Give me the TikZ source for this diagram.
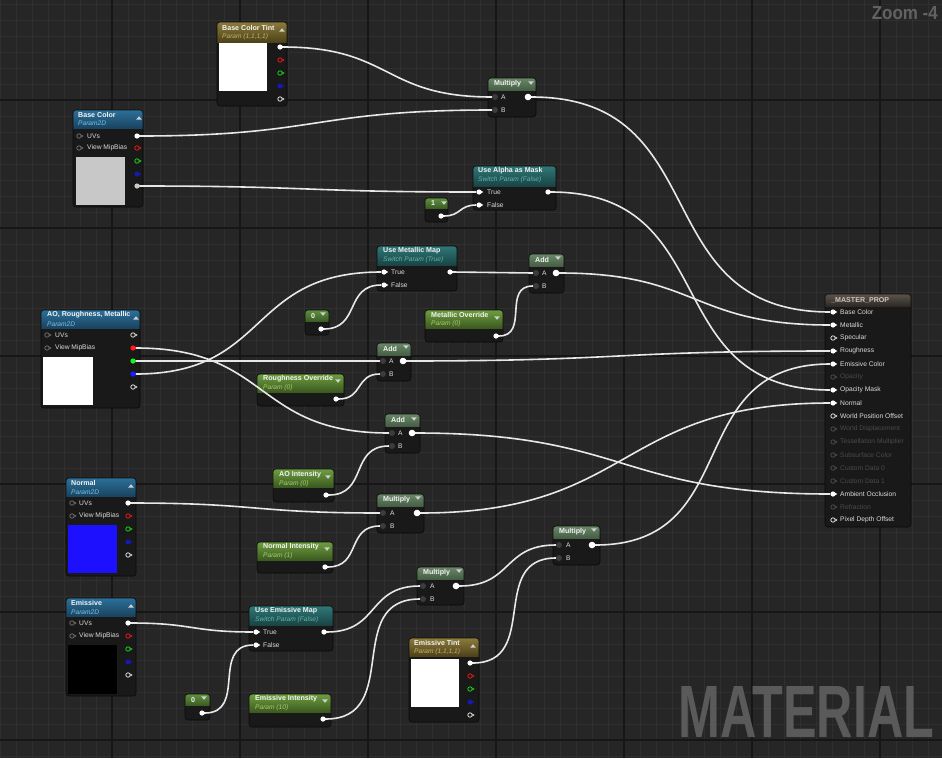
\documentclass[tikz,border=0pt]{standalone}
\usepackage{fontspec}
\setmainfont{Liberation Sans}
\usepackage{graphicx}
\usetikzlibrary{calc}
\definecolor{bgc}{HTML}{262626}
\definecolor{gridm}{HTML}{2F2F2F}
\definecolor{gridM}{HTML}{161616}
\definecolor{nbg}{HTML}{191919}
\definecolor{nbd}{HTML}{0A0A0A}
\definecolor{ttlc}{HTML}{F4F4F4}
\definecolor{lblc}{HTML}{DCDCDC}
\definecolor{dimc}{HTML}{4A4A4A}
\definecolor{wirec}{HTML}{E8E8E8}
\definecolor{pind}{HTML}{3C3C3C}
\definecolor{pinin}{HTML}{6A6A6A}
\definecolor{pinW}{HTML}{D8D8D8}
\definecolor{pinR}{HTML}{E01818}
\definecolor{pinG}{HTML}{18D018}
\definecolor{pinB}{HTML}{1818B0}
\definecolor{pinRf}{HTML}{FF1C1C}
\definecolor{pinGf}{HTML}{1CF01C}
\definecolor{pinBf}{HTML}{1C1CFF}
\definecolor{pinL}{HTML}{C8C8C8}
\definecolor{text}{HTML}{2C709A}
\definecolor{texb}{HTML}{1A4460}
\definecolor{texsub}{HTML}{78C4E8}
\definecolor{vect}{HTML}{8C7B3C}
\definecolor{vecb}{HTML}{4E4219}
\definecolor{vecsub}{HTML}{C4B26C}
\definecolor{scat}{HTML}{6E9E40}
\definecolor{scab}{HTML}{3B5A20}
\definecolor{scasub}{HTML}{A8CC70}
\definecolor{cont}{HTML}{609040}
\definecolor{conb}{HTML}{3C5E24}
\definecolor{matt}{HTML}{6A8868}
\definecolor{matb}{HTML}{465E45}
\definecolor{swit}{HTML}{2F7878}
\definecolor{swib}{HTML}{1A4444}
\definecolor{swisub}{HTML}{62B4AA}
\definecolor{mast}{HTML}{5C534B}
\definecolor{masb}{HTML}{2E2A26}
\definecolor{masttl}{HTML}{CCC6BE}
\definecolor{hdrtri}{HTML}{D0D0D0}
\definecolor{wmc}{HTML}{5A5A5A}
\definecolor{zoomc}{HTML}{626262}
\definecolor{swgrey}{HTML}{C8C8C8}
\definecolor{swblue}{HTML}{1C10FF}
\tikzset{
 ttl/.style={anchor=west, inner sep=0pt, text=ttlc, font=\fontsize{7.1}{8}\selectfont\bfseries},
 sub/.style={anchor=west, inner sep=0pt, font=\fontsize{6.6}{7.5}\selectfont\itshape},
 lbl/.style={anchor=west, inner sep=0pt, text=lblc, font=\fontsize{6.7}{7.5}\selectfont},
 sw/.style={anchor=north west, inner sep=0pt, draw=none},
 wire/.style={draw=wirec, line width=1.6pt},
 wt/.style={out=0, in=180, looseness=1.3}
}
\newcommand\uenode[8]{%
 \node[inner sep=0pt, anchor=north west, minimum width=#4pt, minimum height=#5pt] (#1) at (#2,#3) {};
 \fill[nbg, rounded corners=3pt] (#2,#3) rectangle ++(#4,#5);
 \begin{scope}
  \clip[rounded corners=3pt] (#2,#3) rectangle ++(#4,#5);
  \shade[top color=#7, bottom color=#8] (#2,#3) rectangle ++(#4,#6);
 \end{scope}
 \draw[nbd, line width=0.6pt, rounded corners=3pt] (#2,#3) rectangle ++(#4,#5);
}
\newcommand\pinF[4]{%
 \node[circle,inner sep=0pt,minimum size=5.2pt,fill=#4] (#1) at (#2,#3) {};
 \fill[#4] ([xshift=1.6pt,yshift=1.6pt]#1.center) -- ([xshift=4.3pt]#1.center) -- ([xshift=1.6pt,yshift=-1.6pt]#1.center) -- cycle;}
\newcommand\pinH[4]{%
 \node[circle,inner sep=0pt,minimum size=4.4pt,draw=#4,line width=0.8pt,fill=nbg] (#1) at (#2,#3) {};
 \fill[#4] ([xshift=2.4pt,yshift=1.4pt]#1.center) -- ([xshift=4.6pt]#1.center) -- ([xshift=2.4pt,yshift=-1.4pt]#1.center) -- cycle;}
\newcommand\pinD[3]{\node[circle,inner sep=0pt,minimum size=6pt,fill=pind] (#1) at (#2,#3) {};}
\newcommand\pinO[3]{%
 \node[circle,inner sep=0pt,minimum size=6.6pt,fill=white] (#1) at (#2,#3) {};
 \fill[white] ([xshift=2pt,yshift=1.8pt]#1.center) -- ([xshift=5pt]#1.center) -- ([xshift=2pt,yshift=-1.8pt]#1.center) -- cycle;}
\newcommand\hdrdn[2]{\fill[hdrtri] (#1-2.8,#2-1.6) -- (#1+2.8,#2-1.6) -- (#1,#2+1.8) -- cycle;}
\newcommand\hdrup[2]{\fill[hdrtri] (#1-2.8,#2+1.6) -- (#1+2.8,#2+1.6) -- (#1,#2-1.8) -- cycle;}
\begin{document}
\begin{tikzpicture}[x=1pt,y=-1pt]
\useasboundingbox (0,0) rectangle (942,758);
\fill[bgc] (0,0) rectangle (942,758);
\foreach \gx in {0,16,...,944} \draw[gridm, line width=0.6pt] (\gx,0) -- (\gx,758);
\foreach \gy in {4,20,...,756} \draw[gridm, line width=0.6pt] (0,\gy) -- (942,\gy);
\foreach \gx in {112,240,...,880} \draw[gridM, line width=1.1pt] (\gx,0) -- (\gx,758);
\foreach \gy in {100,228,...,740} \draw[gridM, line width=1.1pt] (0,\gy) -- (942,\gy);

\node[anchor=north east, inner sep=0pt, text=zoomc] (zoomlbl) at (938,6) {\resizebox{66pt}{13pt}{\bfseries Zoom -4}};
\node[anchor=north west, inner sep=0pt, text=wmc] (wmk) at (678,686) {\resizebox{256pt}{51pt}{\bfseries MATERIAL}};

% Base Color Tint
\uenode{bct}{217}{22}{70}{84}{20}{vect}{vecb}
\node[ttl] (bct-t) at (222,28) {Base Color Tint};
\node[sub,text=vecsub] (bct-s) at (222,37) {Param (1,1,1,1)};
\hdrup{282}{30}
\node[sw, fill=white, minimum width=48pt, minimum height=48pt] (bct-sw) at (219,43) {};
\pinF{bct-o1}{280}{47}{white}
\pinH{bct-o2}{280}{60}{pinR}
\pinH{bct-o3}{280}{73}{pinG}
\pinF{bct-o4}{280}{86}{pinB}
\pinH{bct-o5}{280}{99}{pinW}

% Base Color
\uenode{bc}{73}{110}{70}{97}{18}{text}{texb}
\node[ttl] (bc-t) at (78,115) {Base Color};
\node[sub,text=texsub] (bc-s) at (78,123) {Param2D};
\hdrup{139}{118}
\pinH{bc-i1}{79}{136}{pinin} \node[lbl] (bc-l1) at (87,136) {UVs};
\pinH{bc-i2}{79}{148}{pinin} \node[lbl] (bc-l2) at (87,148) {View MipBias};
\pinF{bc-o1}{137}{136}{white}
\pinH{bc-o2}{137}{148}{pinR}
\pinH{bc-o3}{137}{161}{pinG}
\pinF{bc-o4}{137}{174}{pinB}
\pinF{bc-o5}{137}{186}{pinL}
\node[sw, fill=swgrey, minimum width=49pt, minimum height=48pt] (bc-sw) at (76,157) {};

% Multiply (top)
\uenode{mt}{488}{78}{48}{39}{12}{matt}{matb}
\node[ttl] (mt-t) at (494,84) {Multiply};
\hdrdn{531}{83}
\pinD{mt-a}{495}{97} \node[lbl] (mt-la) at (501,97) {A};
\pinD{mt-b}{495}{110} \node[lbl] (mt-lb) at (501,110) {B};
\pinO{mt-o}{528}{97}

% Use Alpha as Mask
\uenode{ua}{473}{166}{83}{44}{20}{swit}{swib}
\node[ttl] (ua-t0) at (478,171) {Use Alpha as Mask};
\node[sub,text=swisub] (ua-s) at (478,180) {Switch Param (False)};
\pinF{ua-t}{479}{192}{white} \node[lbl] (ua-lt) at (487,192) {True};
\pinF{ua-f}{479}{205}{white} \node[lbl] (ua-lf) at (487,205) {False};
\pinF{ua-o}{548}{192}{white}

% Constant 1
\uenode{c1}{425}{198}{23}{24}{10}{cont}{conb}
\node[ttl] (c1-t) at (431,203) {1};
\hdrdn{444}{203}
\pinF{c1-o}{441}{216}{white}

% Use Metallic Map
\uenode{um}{377}{246}{80}{45}{19}{swit}{swib}
\node[ttl] (um-t0) at (383,251) {Use Metallic Map};
\node[sub,text=swisub] (um-s) at (383,260) {Switch Param (True)};
\pinF{um-t}{384}{272}{white} \node[lbl] (um-lt) at (391,272) {True};
\pinF{um-f}{384}{285}{white} \node[lbl] (um-lf) at (391,285) {False};
\pinF{um-o}{450}{272}{white}

% Add (metallic)
\uenode{ad1}{529}{254}{35}{39}{12}{matt}{matb}
\node[ttl] (ad1-t) at (535,260) {Add};
\hdrdn{558}{258}
\pinD{ad1-a}{536}{273} \node[lbl] (ad1-la) at (542,273) {A};
\pinD{ad1-b}{536}{286} \node[lbl] (ad1-lb) at (542,286) {B};
\pinO{ad1-o}{556}{273}

% Constant 0 (metallic)
\uenode{c0a}{305}{310}{24}{25}{11}{cont}{conb}
\node[ttl] (c0a-t) at (311,316) {0};
\hdrdn{323}{314}
\pinF{c0a-o}{321}{329}{white}

% Metallic Override
\uenode{mo}{425}{310}{78}{32}{18}{scat}{scab}
\node[ttl] (mo-t) at (431,315) {Metallic Override};
\node[sub,text=scasub] (mo-s) at (431,324) {Param (0)};
\hdrdn{497}{318}
\pinF{mo-o}{496}{336}{white}

% AO, Roughness, Metallic
\uenode{arm}{41}{310}{99}{98}{18}{text}{texb}
\node[ttl] (arm-t) at (47,315) {AO, Roughness, Metallic};
\node[sub,text=texsub] (arm-s) at (47,324) {Param2D};
\hdrup{136}{318}
\pinH{arm-i1}{47}{335}{pinin} \node[lbl] (arm-l1) at (55,335) {UVs};
\pinH{arm-i2}{47}{348}{pinin} \node[lbl] (arm-l2) at (55,348) {View MipBias};
\pinH{arm-o1}{133}{335}{pinW}
\pinF{arm-o2}{133}{348}{pinRf}
\pinF{arm-o3}{133}{361}{pinGf}
\pinF{arm-o4}{133}{374}{pinBf}
\pinH{arm-o5}{133}{387}{pinW}
\node[sw, fill=white, minimum width=50pt, minimum height=48pt] (arm-sw) at (43,357) {};

% Add (roughness)
\uenode{ad2}{377}{343}{34}{38}{12}{matt}{matb}
\node[ttl] (ad2-t) at (383,349) {Add};
\hdrdn{406}{347}
\pinD{ad2-a}{383}{361} \node[lbl] (ad2-la) at (389,361) {A};
\pinD{ad2-b}{383}{374} \node[lbl] (ad2-lb) at (389,374) {B};
\pinO{ad2-o}{403}{361}

% Roughness Override
\uenode{ro}{257}{374}{87}{32}{18}{scat}{scab}
\node[ttl] (ro-t) at (263,379) {Roughness Override};
\node[sub,text=scasub] (ro-s) at (263,388) {Param (0)};
\hdrdn{338}{381}
\pinF{ro-o}{336}{399}{white}

% Add (AO)
\uenode{ad3}{385}{414}{35}{39}{12}{matt}{matb}
\node[ttl] (ad3-t) at (391,420) {Add};
\hdrdn{414}{419}
\pinD{ad3-a}{392}{433} \node[lbl] (ad3-la) at (398,433) {A};
\pinD{ad3-b}{392}{446} \node[lbl] (ad3-lb) at (398,446) {B};
\pinO{ad3-o}{412}{433}

% Master
\uenode{mp}{825}{294}{86}{233}{12}{mast}{masb}
\node[ttl,text=masttl] (mp-t) at (831,300) {\_MASTER\_PROP};
\foreach \i/\t in {1/Base Color,2/Metallic,4/Roughness,5/Emissive Color,7/Opacity Mask,8/Normal,15/Ambient Occlusion}{
 \pgfmathsetmacro\yy{299+13*\i}
 \pinF{mp-\i}{833}{\yy}{white}
 \node[lbl] (mp-l\i) at (840,\yy) {\t};
}
\foreach \i/\t in {3/Specular,9/World Position Offset,17/Pixel Depth Offset}{
 \pgfmathsetmacro\yy{299+13*\i}
 \pinH{mp-\i}{833}{\yy}{pinW}
 \node[lbl] (mp-l\i) at (840,\yy) {\t};
}
\foreach \i/\t in {6/Opacity,10/World Displacement,11/Tessellation Multiplier,12/Subsurface Color,13/Custom Data 0,14/Custom Data 1,16/Refraction}{
 \pgfmathsetmacro\yy{299+13*\i}
 \pinH{mp-\i}{833}{\yy}{dimc}
 \node[lbl,text=dimc] (mp-l\i) at (840,\yy) {\t};
}

% Normal
\uenode{nm}{66}{478}{70}{98}{18}{text}{texb}
\node[ttl] (nm-t) at (71,483) {Normal};
\node[sub,text=texsub] (nm-s) at (71,492) {Param2D};
\hdrup{131}{486}
\pinH{nm-i1}{72}{503}{pinin} \node[lbl] (nm-l1) at (79,503) {UVs};
\pinH{nm-i2}{72}{516}{pinin} \node[lbl] (nm-l2) at (79,516) {View MipBias};
\pinF{nm-o1}{128}{503}{white}
\pinH{nm-o2}{128}{516}{pinR}
\pinH{nm-o3}{128}{529}{pinG}
\pinF{nm-o4}{128}{542}{pinB}
\pinH{nm-o5}{128}{555}{pinW}
\node[sw, fill=swblue, minimum width=49pt, minimum height=48pt] (nm-sw) at (68,525) {};

% AO Intensity
\uenode{aoi}{273}{469}{61}{33}{18}{scat}{scab}
\node[ttl] (aoi-t) at (279,475) {AO Intensity};
\node[sub,text=scasub] (aoi-s) at (279,484) {Param (0)};
\hdrdn{328}{477}
\pinF{aoi-o}{326}{495}{white}

% Multiply (normal)
\uenode{mn}{377}{494}{47}{39}{12}{matt}{matb}
\node[ttl] (mn-t) at (383,500) {Multiply};
\hdrdn{418}{498}
\pinD{mn-a}{383}{513} \node[lbl] (mn-la) at (390,513) {A};
\pinD{mn-b}{383}{526} \node[lbl] (mn-lb) at (390,526) {B};
\pinO{mn-o}{417}{513}

% Normal Intensity
\uenode{ni}{257}{542}{76}{31}{18}{scat}{scab}
\node[ttl] (ni-t) at (263,547) {Normal Intensity};
\node[sub,text=scasub] (ni-s) at (263,556) {Param (1)};
\hdrdn{327}{549}
\pinF{ni-o}{325}{567}{white}

% Emissive
\uenode{em}{66}{598}{70}{98}{18}{text}{texb}
\node[ttl] (em-t) at (71,603) {Emissive};
\node[sub,text=texsub] (em-s) at (71,612) {Param2D};
\hdrup{131}{606}
\pinH{em-i1}{72}{623}{pinin} \node[lbl] (em-l1) at (79,623) {UVs};
\pinH{em-i2}{72}{636}{pinin} \node[lbl] (em-l2) at (79,636) {View MipBias};
\pinF{em-o1}{128}{623}{white}
\pinH{em-o2}{128}{636}{pinR}
\pinH{em-o3}{128}{649}{pinG}
\pinF{em-o4}{128}{662}{pinB}
\pinH{em-o5}{128}{675}{pinW}
\node[sw, fill=black, minimum width=49pt, minimum height=49pt] (em-sw) at (68,645) {};

% Use Emissive Map
\uenode{uem}{249}{606}{84}{45}{19}{swit}{swib}
\node[ttl] (uem-t0) at (255,611) {Use Emissive Map};
\node[sub,text=swisub] (uem-s) at (255,620) {Switch Param (False)};
\pinF{uem-t}{256}{632}{white} \node[lbl] (uem-lt) at (263,632) {True};
\pinF{uem-f}{256}{645}{white} \node[lbl] (uem-lf) at (263,645) {False};
\pinF{uem-o}{324}{632}{white}

% Constant 0 (emissive)
\uenode{c0b}{185}{694}{25}{26}{11}{cont}{conb}
\node[ttl] (c0b-t) at (191,700) {0};
\hdrdn{204}{698}
\pinF{c0b-o}{202}{713}{white}

% Emissive Intensity
\uenode{ei}{249}{694}{82}{33}{18}{scat}{scab}
\node[ttl] (ei-t) at (255,699) {Emissive Intensity};
\node[sub,text=scasub] (ei-s) at (255,708) {Param (10)};
\hdrdn{325}{701}
\pinF{ei-o}{323}{719}{white}

% Multiply (emissive 1)
\uenode{me1}{417}{567}{47}{38}{12}{matt}{matb}
\node[ttl] (me1-t) at (423,573) {Multiply};
\hdrdn{459}{571}
\pinD{me1-a}{423}{586} \node[lbl] (me1-la) at (430,586) {A};
\pinD{me1-b}{423}{599} \node[lbl] (me1-lb) at (430,599) {B};
\pinO{me1-o}{456}{586}

% Multiply (emissive 2)
\uenode{me2}{553}{526}{47}{39}{12}{matt}{matb}
\node[ttl] (me2-t) at (559,532) {Multiply};
\hdrdn{594}{530}
\pinD{me2-a}{559}{545} \node[lbl] (me2-la) at (566,545) {A};
\pinD{me2-b}{559}{558} \node[lbl] (me2-lb) at (566,558) {B};
\pinO{me2-o}{592}{545}

% Emissive Tint
\uenode{et}{409}{638}{70}{84}{18}{vect}{vecb}
\node[ttl] (et-t) at (414,643) {Emissive Tint};
\node[sub,text=vecsub] (et-s) at (414,652) {Param (1,1,1,1)};
\hdrup{473}{646}
\node[sw, fill=white, minimum width=48pt, minimum height=48pt] (et-sw) at (411,659) {};
\pinF{et-o1}{470}{663}{white}
\pinH{et-o2}{470}{676}{pinR}
\pinH{et-o3}{470}{689}{pinG}
\pinF{et-o4}{470}{702}{pinB}
\pinH{et-o5}{470}{715}{pinW}

% Wires
\draw[wire] (bct-o1) to[wt] (mt-a);
\draw[wire] (bc-o1) to[wt] (mt-b);
\draw[wire] (bc-o5) to[wt] (ua-t);
\draw[wire] (c1-o) to[wt] (ua-f);
\draw[wire] (mt-o) to[wt] (mp-1);
\draw[wire] (ua-o) to[wt] (mp-7);
\draw[wire] (arm-o4) to[wt] (um-t);
\draw[wire] (c0a-o) to[wt] (um-f);
\draw[wire] (um-o) to[wt] (ad1-a);
\draw[wire] (mo-o) to[wt] (ad1-b);
\draw[wire] (ad1-o) to[wt] (mp-2);
\draw[wire] (arm-o3) to[wt] (ad2-a);
\draw[wire] (ro-o) to[wt] (ad2-b);
\draw[wire] (ad2-o) to[wt] (mp-4);
\draw[wire] (arm-o2) to[wt] (ad3-a);
\draw[wire] (aoi-o) to[wt] (ad3-b);
\draw[wire] (ad3-o) to[wt] (mp-15);
\draw[wire] (nm-o1) to[wt] (mn-a);
\draw[wire] (ni-o) to[wt] (mn-b);
\draw[wire] (mn-o) to[wt] (mp-8);
\draw[wire] (em-o1) to[wt] (uem-t);
\draw[wire] (c0b-o) to[wt] (uem-f);
\draw[wire] (uem-o) to[wt] (me1-a);
\draw[wire] (ei-o) to[wt] (me1-b);
\draw[wire] (me1-o) to[wt] (me2-a);
\draw[wire] (et-o1) to[wt] (me2-b);
\draw[wire] (me2-o) to[wt] (mp-5);
\end{tikzpicture}
\end{document}
